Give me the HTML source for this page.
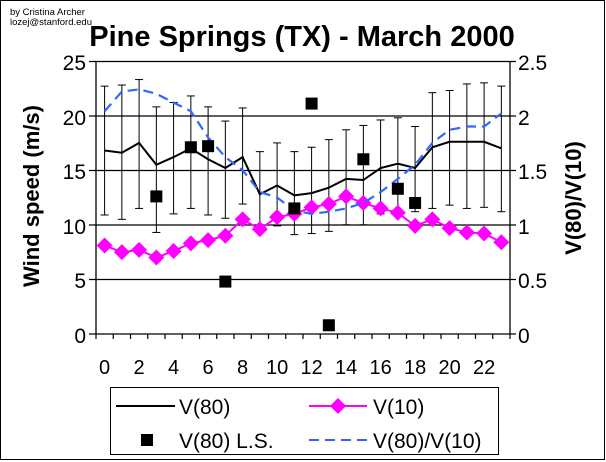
<!DOCTYPE html>
<html><head><meta charset="utf-8"><style>
html,body{margin:0;padding:0;background:#fff}
svg{display:block;font-family:"Liberation Sans",Arial,sans-serif}
</style></head><body>
<svg id="s" width="606" height="462" viewBox="0 0 606 462" xmlns="http://www.w3.org/2000/svg">
<rect x="0.5" y="0.5" width="604" height="459" fill="#fff" stroke="#000"/>
<text x="10" y="15" font-size="9.5">by Cristina Archer</text>
<text x="10" y="25" font-size="9.5">lozej@stanford.edu</text>
<text x="302" y="46" font-size="29" font-weight="bold" text-anchor="middle">Pine Springs (TX) - March 2000</text>
<g stroke="#000" stroke-width="1.3">
<line x1="89" y1="61.5" x2="516" y2="61.5"/>
<line x1="89" y1="116" x2="516" y2="116"/>
<line x1="89" y1="170.5" x2="516" y2="170.5"/>
<line x1="89" y1="225" x2="516" y2="225"/>
<line x1="89" y1="279.5" x2="516" y2="279.5"/>
<line x1="89" y1="334" x2="516" y2="334"/>
<line x1="96" y1="61" x2="96" y2="334"/>
<line x1="510" y1="61" x2="510" y2="334"/>
</g>
<g font-size="21" text-anchor="end">
<text x="86" y="70">25</text><text x="86" y="125">20</text><text x="86" y="179">15</text>
<text x="86" y="234">10</text><text x="86" y="288">5</text><text x="86" y="343">0</text>
</g>
<g font-size="21">
<text x="518" y="70">2.5</text><text x="518" y="125">2</text><text x="518" y="179">1.5</text>
<text x="518" y="234">1</text><text x="518" y="288">0.5</text><text x="518" y="343">0</text>
</g>
<g font-size="20" text-anchor="middle">
<text x="104.6" y="374">0</text><text x="139.1" y="374">2</text><text x="173.6" y="374">4</text>
<text x="208.1" y="374">6</text><text x="242.6" y="374">8</text><text x="277.1" y="374">10</text>
<text x="311.6" y="374">12</text><text x="346.1" y="374">14</text><text x="380.6" y="374">16</text>
<text x="415.1" y="374">18</text><text x="449.6" y="374">20</text><text x="484.1" y="374">22</text>
</g>
<text transform="translate(39,196) rotate(-90)" font-size="22" font-weight="bold" text-anchor="middle">Wind speed (m/s)</text>
<text transform="translate(581,198) rotate(-90)" font-size="22" font-weight="bold" text-anchor="middle">V(80)/V(10)</text>
<g id="d"></g>
<rect x="110.5" y="387.5" width="388" height="67" fill="#fff" stroke="#000"/>
<line x1="116" y1="406" x2="175" y2="406" stroke="#000" stroke-width="2"/>
<text x="179" y="414" font-size="21">V(80)</text>
<line x1="309" y1="406" x2="367" y2="406" stroke="#f0f" stroke-width="2"/>
<polygon points="338,398 346,406 338,414 330,406" fill="#f0f"/>
<text x="373" y="414" font-size="21">V(10)</text>
<rect x="141" y="434" width="12" height="12" fill="#000"/>
<text x="179" y="448" font-size="21">V(80) L.S.</text>
<line x1="309" y1="440" x2="367" y2="440" stroke="#36f" stroke-width="2" stroke-dasharray="10,6"/>
<text x="373" y="448" font-size="21">V(80)/V(10)</text>
</svg>
<script>
var NS="http://www.w3.org/2000/svg",g=document.getElementById("d");
function X(i){return 104.6+17.25*i}
function Y(v){return 334-10.92*v}
function el(t,a){var e=document.createElementNS(NS,t);for(var k in a)e.setAttribute(k,a[k]);g.appendChild(e);return e}
var v80=[16.8,16.6,17.5,15.5,16.2,17.0,16.0,15.2,16.2,12.8,13.6,12.7,12.9,13.4,14.2,14.1,15.2,15.6,15.2,17.1,17.6,17.6,17.6,17.0];
var top_=[22.7,22.8,23.3,20.8,21.2,21.8,20.8,19.5,20.7,16.7,17.5,16.7,17.1,17.8,18.7,19.1,19.6,19.8,19.0,22.1,22.3,22.9,23.0,22.7];
var bot=[10.9,10.5,11.5,9.3,11.0,11.5,10.9,10.6,11.9,9.5,9.9,9.1,9.2,9.4,10.0,10.0,11.0,10.8,11.2,11.5,11.8,11.5,11.6,11.2];
var v10=[8.1,7.5,7.7,7.0,7.6,8.3,8.6,9.0,10.5,9.6,10.7,11.0,11.6,11.9,12.6,12.0,11.5,11.1,9.9,10.5,9.7,9.3,9.2,8.4];
var r=[2.04,2.22,2.24,2.2,2.12,2.04,1.8,1.62,1.5,1.3,1.25,1.13,1.1,1.12,1.15,1.2,1.3,1.42,1.55,1.75,1.87,1.9,1.9,2.02];
var ls={3:12.6,5:17.1,6:17.2,7:4.8,11:11.5,12:21.1,13:0.8,15:16.0,17:13.3,18:12.0};
for(var i=0;i<=24;i++)el("line",{x1:96+17.25*i,y1:334,x2:96+17.25*i,y2:339,stroke:"#000","stroke-width":1.2});
for(var i=0;i<24;i++){var x=X(i);
el("line",{x1:x,y1:Y(top_[i]),x2:x,y2:Y(bot[i]),stroke:"#000","stroke-width":1});
el("line",{x1:x-4,y1:Y(top_[i]),x2:x+4,y2:Y(top_[i]),stroke:"#000","stroke-width":1});
el("line",{x1:x-4,y1:Y(bot[i]),x2:x+4,y2:Y(bot[i]),stroke:"#000","stroke-width":1});}
function pts(a,s){return a.map(function(v,i){return X(i)+","+(s?334-109.2*v:Y(v))}).join(" ")}
el("polyline",{points:pts(v10),fill:"none",stroke:"#f0f","stroke-width":2});
for(var i=0;i<24;i++){var x=X(i),y=Y(v10[i]);el("polygon",{points:(x)+","+(y-8)+" "+(x+8)+","+y+" "+x+","+(y+8)+" "+(x-8)+","+y,fill:"#f0f"});}
el("polyline",{points:pts(v80),fill:"none",stroke:"#000","stroke-width":2});
el("polyline",{points:pts(r,1),fill:"none",stroke:"#36f","stroke-width":2.2,"stroke-dasharray":"10,6"});
for(var k in ls){el("rect",{x:X(+k)-6,y:Y(ls[k])-6,width:12,height:12,fill:"#000"});}
</script>
</body></html>
